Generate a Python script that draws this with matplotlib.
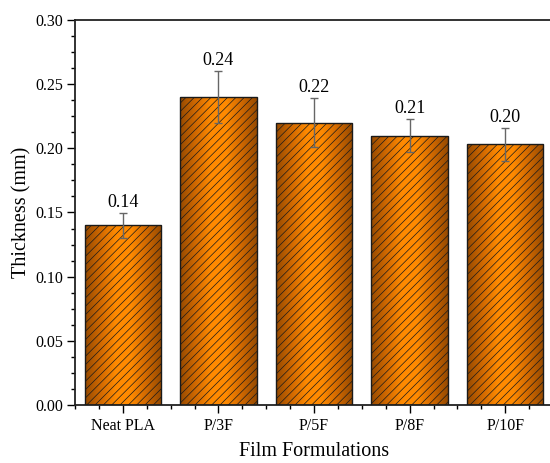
import numpy as np
import matplotlib
matplotlib.use("Agg")
import matplotlib.pyplot as plt
from matplotlib.ticker import AutoMinorLocator, MultipleLocator
from matplotlib.colors import LinearSegmentedColormap

categories = ["Neat PLA", "P/3F", "P/5F", "P/8F", "P/10F"]
thickness = [0.140, 0.240, 0.220, 0.210, 0.203]
errors = [0.0095, 0.0205, 0.019, 0.013, 0.0125]
value_labels = ["0.14", "0.24", "0.22", "0.21", "0.20"]

plt.rcParams['font.family'] = ['Liberation Serif', 'DejaVu Serif']
plt.rcParams['hatch.linewidth'] = 0.5
plt.rcParams['hatch.color'] = 'black'

fig = plt.figure(figsize=(5.5, 4.63), dpi=100)
ax = fig.add_axes([75/550, 58/463, 478/550, 385/463])

x = np.arange(len(categories))
bars = ax.bar(x, thickness, width=0.8, facecolor='none', edgecolor='#1a1a1a',
              linewidth=1.0, hatch='////', zorder=3)

cmap = LinearSegmentedColormap.from_list(
    'og', ['#964a00', '#d06800', '#ff8a00', '#ff8a00', '#d06800', '#964a00'])
grad = np.linspace(0, 1, 256).reshape(1, -1)
for b in bars:
    x0, w, h = b.get_x(), b.get_width(), b.get_height()
    im = ax.imshow(grad, cmap=cmap, aspect='auto', extent=(x0, x0 + w, 0, h),
                   zorder=2, interpolation='bicubic')
    im.set_clip_path(b)

ax.errorbar(x, thickness, yerr=errors, fmt='none', ecolor='#666666',
            elinewidth=1.0, capsize=3, capthick=1.0, zorder=4)

for xi, v, e, lab in zip(x, thickness, errors, value_labels):
    ax.annotate(lab, xy=(xi, v + e), xytext=(0, 1.5), textcoords='offset points',
                ha='center', va='bottom', fontsize=13, zorder=5)

ax.set_xlim(-0.5, 4.5)
ax.set_ylim(0, 0.30)
ax.set_xticks(x)
ax.set_xticklabels(categories)
ax.xaxis.set_minor_locator(MultipleLocator(0.25))
ax.yaxis.set_major_locator(MultipleLocator(0.05))
ax.yaxis.set_minor_locator(AutoMinorLocator(4))
ax.yaxis.set_major_formatter(plt.FormatStrFormatter('%.2f'))
ax.tick_params(axis='both', which='major', direction='out', length=5.5, width=1.0, pad=3)
ax.tick_params(axis='both', which='minor', direction='out', length=3, width=1.0)
ax.tick_params(axis='y', labelsize=11.5)
ax.tick_params(axis='x', labelsize=11.5, pad=4)

for s in ['left', 'bottom', 'top']:
    ax.spines[s].set_linewidth(1.3)
    ax.spines[s].set_color('#222222')
ax.spines['right'].set_visible(False)

ax.set_xlabel('Film Formulations', fontsize=14.5)
ax.set_ylabel('Thickness (mm)', fontsize=14.5)
ax.xaxis.set_label_coords(0.5, -0.122)
ax.xaxis.label.set_va('center')
ax.yaxis.set_label_coords(-0.111, 0.5)
ax.yaxis.label.set_va('center')

fig.savefig('out.png', dpi=100)
